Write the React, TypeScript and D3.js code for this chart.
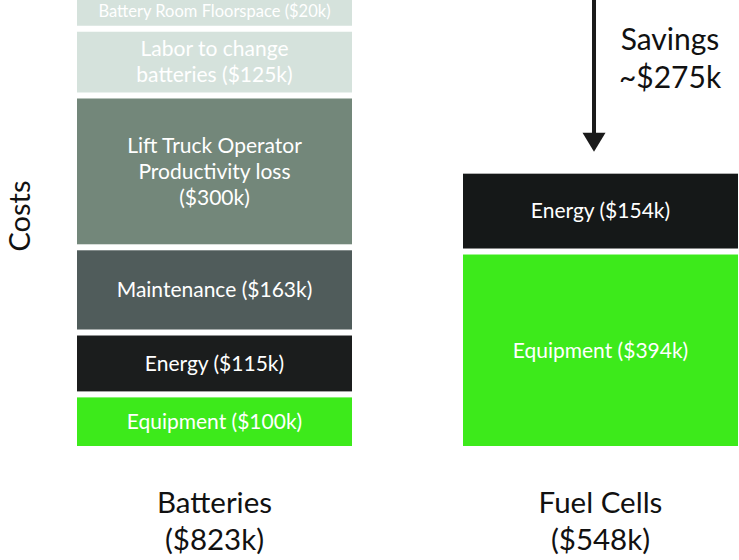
import { useEffect, useRef } from "react";
import * as d3 from "d3";

const columns = ["Batteries", "Fuel Cells"];
const columnTotals = ["($823k)", "($548k)"];

// bottom to top
const batteryLabels = [
  ["Equipment ($100k)"],
  ["Energy ($115k)"],
  ["Maintenance ($163k)"],
  ["Lift Truck Operator", "Productivity loss", "($300k)"],
  ["Labor to change", "batteries ($125k)"],
  ["Battery Room Floorspace ($20k)"],
];
const batteryValues = [100, 115, 163, 300, 125, 20];
const batteryColors = ["#3dea1b", "#1b1d1d", "#505c5b", "#73877a", "#d5e2dc", "#d5e2dc"];

const fuelLabels = [["Equipment ($394k)"], ["Energy ($154k)"]];
const fuelValues = [394, 154];
const fuelColors = ["#3dea1b", "#151818"];

const savingsLines = ["Savings", "~$275k"];

const W = 739;
const H = 560;
const FONT = "Lato, 'Open Sans', sans-serif";

export default function App() {
  const ref = useRef<SVGSVGElement | null>(null);

  useEffect(() => {
    if (!ref.current) return;
    const svg = d3.select(ref.current);
    svg.selectAll("*").remove();

    const baseY = 446;
    const gap = 6;
    const minH = 30;

    const x = d3.scaleBand().domain(columns).range([77, 738]).paddingInner(0.2876).paddingOuter(0);
    const h = d3.scaleLinear().domain([0, 100]).range([0, 48.6]);

    const drawStack = (col: string, values: number[], labels: string[][], colors: string[]) => {
      let top = baseY;
      const x0 = x(col) ?? 0;
      const bw = x.bandwidth();
      const g = svg.append("g");
      const tops: number[] = [];
      values.forEach((v, i) => {
        const hh = Math.max(minH, h(v));
        const y0 = top - hh;
        tops.push(y0);
        g.append("rect")
          .attr("x", x0)
          .attr("y", y0)
          .attr("width", bw)
          .attr("height", hh)
          .attr("fill", colors[i]);
        const lines = labels[i];
        const small = lines[0].length > 24;
        const fs = small ? 16.5 : 21;
        const lh = 26;
        const cy = y0 + hh / 2;
        const t = g
          .append("text")
          .attr("text-anchor", "middle")
          .attr("fill", "#fff")
          .attr("font-family", FONT)
          .attr("font-size", fs);
        lines.forEach((line, j) => {
          t.append("tspan")
            .attr("x", x0 + bw / 2)
            .attr("y", cy + (j - (lines.length - 1) / 2) * lh)
            .attr("dy", "0.35em")
            .text(line);
        });
        top = y0 - gap;
      });
      return tops;
    };

    drawStack(columns[0], batteryValues, batteryLabels, batteryColors);
    const fuelTops = drawStack(columns[1], fuelValues, fuelLabels, fuelColors);

    // column labels
    columns.forEach((c, i) => {
      const cx = (x(c) ?? 0) + x.bandwidth() / 2;
      const t = svg
        .append("text")
        .attr("text-anchor", "middle")
        .attr("fill", "#111")
        .attr("font-family", FONT)
        .attr("font-size", 29.5);
      t.append("tspan").attr("x", cx).attr("y", 513).text(c);
      t.append("tspan").attr("x", cx).attr("y", 550).text(columnTotals[i]);
    });

    // axis title
    svg
      .append("text")
      .attr("transform", "translate(30,216) rotate(-90)")
      .attr("text-anchor", "middle")
      .attr("fill", "#111")
      .attr("font-family", FONT)
      .attr("font-size", 29)
      .text("Costs");

    // savings arrow
    const ax = (x(columns[1]) ?? 0) + 131;
    const tipY = fuelTops[fuelTops.length - 1] - 22;
    svg
      .append("line")
      .attr("x1", ax)
      .attr("x2", ax)
      .attr("y1", 0)
      .attr("y2", tipY - 16)
      .attr("stroke", "#1a1a1a")
      .attr("stroke-width", 4);
    svg
      .append("path")
      .attr("d", `M${ax - 11.5},${tipY - 19} L${ax + 11.5},${tipY - 19} L${ax},${tipY} Z`)
      .attr("fill", "#1a1a1a");

    const st = svg
      .append("text")
      .attr("text-anchor", "middle")
      .attr("fill", "#111")
      .attr("font-family", FONT)
      .attr("font-size", 30);
    savingsLines.forEach((s, i) => {
      st.append("tspan").attr("x", 670).attr("y", 50 + i * 38).text(s);
    });
  }, []);

  return (
    <svg
      ref={ref}
      width={W}
      height={H}
      style={{ position: "absolute", left: 0, top: 0, background: "#fff" }}
    />
  );
}
